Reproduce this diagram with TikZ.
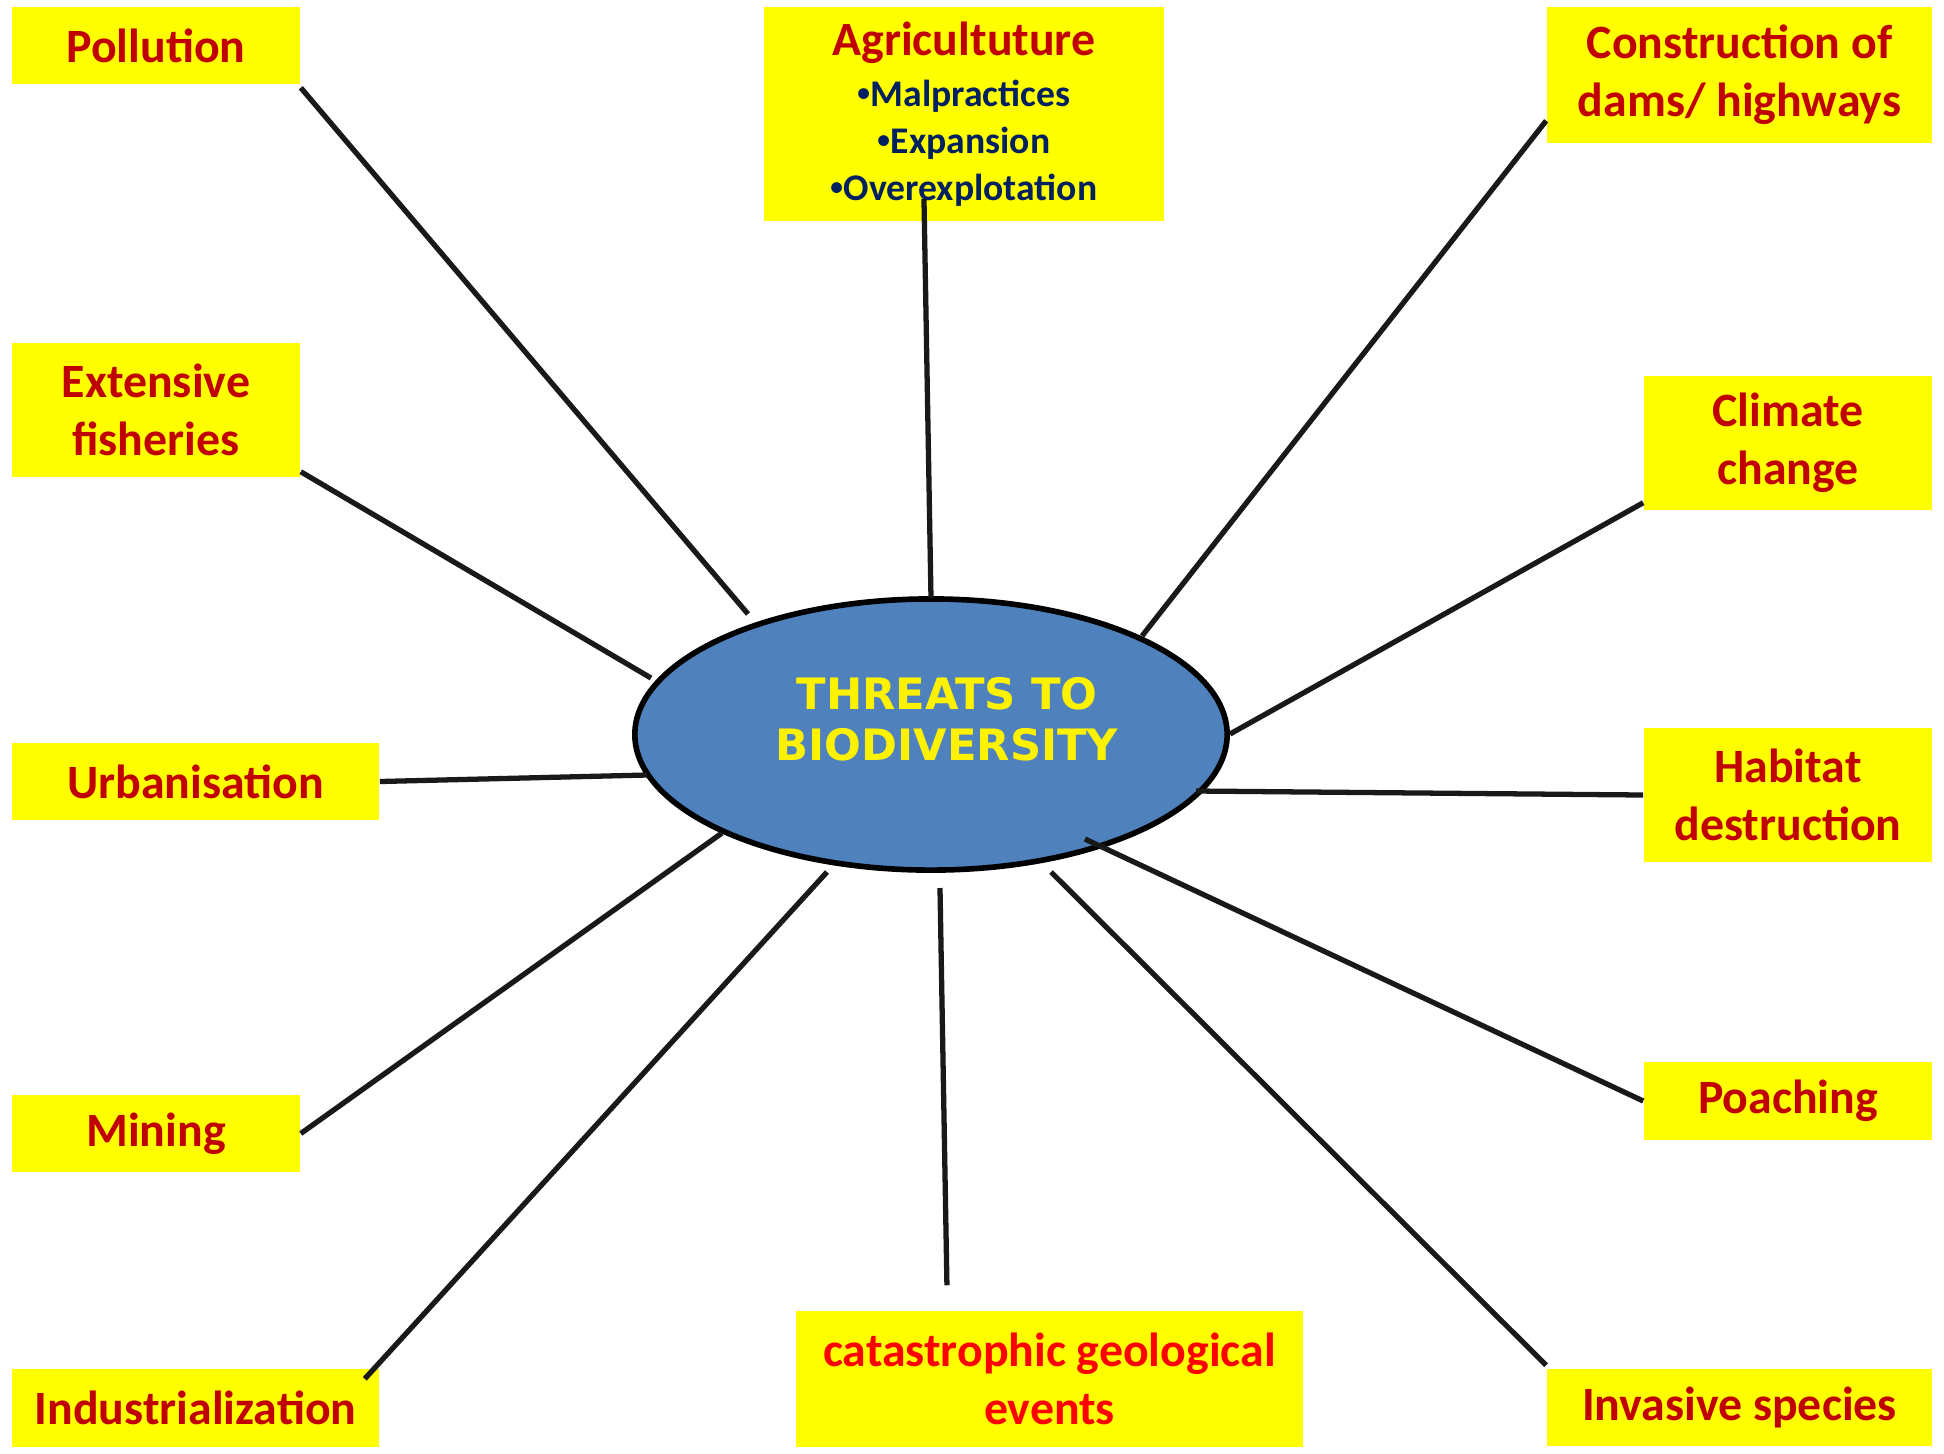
\documentclass[tikz,border=0pt]{standalone}
\usepackage{fontspec}
\setmainfont{Carlito}
\newfontfamily\hubfont{DejaVu Sans}
\newfontfamily\bulletfont{Liberation Sans}
\usetikzlibrary{shapes.geometric}
\definecolor{boxyellow}{RGB}{255,255,0}
\definecolor{threatred}{RGB}{192,0,0}
\definecolor{brightred}{RGB}{255,0,0}
\definecolor{subnavy}{RGB}{0,32,96}
\definecolor{hubblue}{RGB}{79,129,189}
\newcommand{\agripoint}[1]{{\color{subnavy}\fontsize{10.7}{13}\selectfont{\bulletfont\textbullet}#1}}
\tikzset{
  threat/.style={
    fill=boxyellow,
    draw=none,
    align=center,
    inner sep=0pt,
    minimum width=2.88cm,
    minimum height=0.77cm,
    font=\fontsize{13.6}{16.5}\selectfont\bfseries,
    text=threatred
  },
  hub/.style={
    ellipse,
    draw=black,
    line width=1.6pt,
    fill=hubblue,
    inner sep=0pt,
    minimum width=5.92cm,
    minimum height=2.71cm
  },
  hubtext/.style={
    align=center,
    font=\hubfont\fontsize{12.3}{14.4}\selectfont\bfseries,
    text=yellow
  },
  spoke/.style={line width=1.5pt, draw=black!90}
}

\begin{document}
\begin{tikzpicture}[x=0.01cm,y=-0.01cm]
    \useasboundingbox (0,0) rectangle (1944,1453);

    \node[hub] (hub) at (931,734.5) {};
    \node[hubtext] (hubtitle) at (947,719) {THREATS TO\\BIODIVERSITY};

    \node[threat] (pollution) at (156,45.5) {Pollution};
    \node[threat, minimum width=4.0cm, minimum height=2.14cm,
      font=\fontsize{13.6}{13.4}\selectfont\bfseries] (agri) at (964,114)
      {Agricultuture\\[1pt]\agripoint{Malpractices}\\
       \agripoint{Expansion}\\
       \agripoint{Overexplotation}};
    \node[threat, minimum width=3.85cm, minimum height=1.36cm] (dams) at (1739.5,75) {Construction of\\dams/ highways};
    \node[threat, minimum height=1.34cm] (fisheries) at (156,410) {Extensive\\fisheries};
    \node[threat, minimum height=1.34cm] (climate) at (1788,443) {Climate\\change};
    \node[threat, minimum width=3.67cm] (urban) at (195.5,781.5) {Urbanisation};
    \node[threat, minimum height=1.34cm] (habitat) at (1788,795) {Habitat\\destruction};
    \node[threat] (mining) at (156,1133.5) {Mining};
    \node[threat] (poaching) at (1788,1101) {Poaching};
    \node[threat, minimum width=3.67cm] (industry) at (195.5,1408) {Industrialization};
    \node[threat, minimum width=5.07cm, minimum height=1.36cm, text=brightred] (geo) at (1049.5,1379) {catastrophic geological\\events};
    \node[threat, minimum width=3.85cm] (invasive) at (1739.5,1407.5) {Invasive species};

    % free ends of the spokes near the ellipse
    \coordinate (hpol) at (748,614);
    \coordinate (hagri) at (931,598);
    \coordinate (hdams) at (1142,636);
    \coordinate (hfish) at (651,678);
    \coordinate (hclim) at (1230,734);
    \coordinate (hurb) at (647,775);
    \coordinate (hhab) at (1196,791);
    \coordinate (hmin) at (722,833);
    \coordinate (hpoach) at (1085,839);
    \coordinate (hind) at (827,872);
    \coordinate (hgeo) at (940,888);
    \coordinate (hinv) at (1051,872);

    \draw[spoke] ([yshift=-0.03cm]pollution.south east) -- (hpol);
    \draw[spoke] ([xshift=-0.4cm,yshift=0.23cm]agri.south) -- (hagri);
    \draw[spoke] ([yshift=0.23cm]dams.south west) -- (hdams);
    \draw[spoke] ([yshift=0.06cm]fisheries.south east) -- (hfish);
    \draw[spoke] ([yshift=0.08cm]climate.south west) -- (hclim);
    \draw[spoke] (urban.east) -- (hurb);
    \draw[spoke] (habitat.west) -- (hhab);
    \draw[spoke] (mining.east) -- (hmin);
    \draw[spoke] (poaching.west) -- (hpoach);
    \draw[spoke] ([xshift=-0.15cm,yshift=-0.1cm]industry.north east) -- (hind);
    \draw[spoke] ([xshift=-1.025cm,yshift=0.25cm]geo.north) -- (hgeo);
    \draw[spoke] ([yshift=0.03cm]invasive.north west) -- (hinv);
  \end{tikzpicture}
\end{document}
